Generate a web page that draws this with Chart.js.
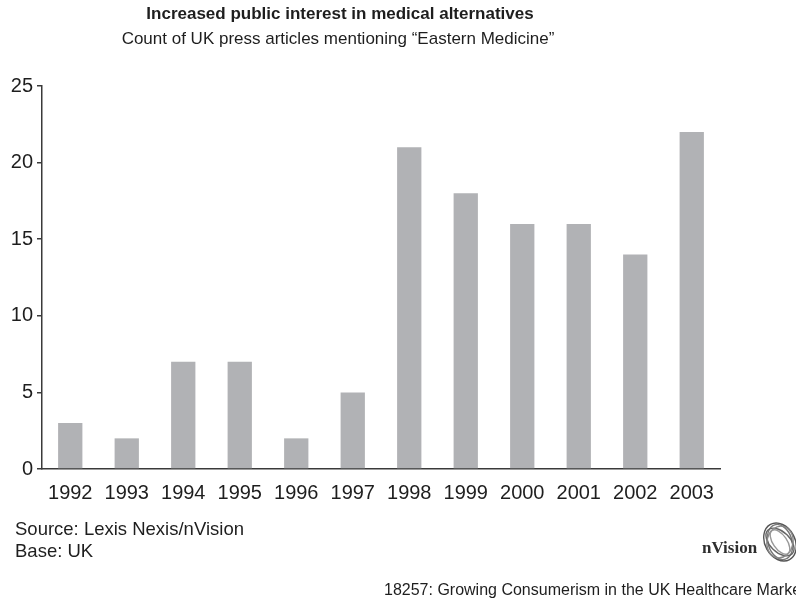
<!DOCTYPE html>
<html>
<head>
<meta charset="utf-8">
<script src="https://cdn.jsdelivr.net/npm/chart.js@4.4.0/dist/chart.umd.min.js"></script>
<style>
  html, body { margin: 0; padding: 0; background: #fff; }
  #wrap { position: relative; width: 796px; height: 603px; overflow: hidden; }
</style>
</head>
<body>
<div id="wrap"><canvas id="press_chart" width="796" height="603"></canvas></div>
<script>
// article counts per year
const years = ['1992', '1993', '1994', '1995', '1996', '1997', '1998', '1999', '2000', '2001', '2002', '2003'];
const articles = [3, 2, 7, 7, 2, 5, 21, 18, 16, 16, 14, 22];
const yTicks = [0, 5, 10, 15, 20, 25];

const titleText = 'Increased public interest in medical alternatives';
const subtitleText = 'Count of UK press articles mentioning \u201cEastern Medicine\u201d';
const sourceLines = ['Source: Lexis Nexis/nVision', 'Base: UK'];
const footerText = '18257: Growing Consumerism in the UK Healthcare Market';

const textColour = '#1e1e1e';
const axisColour = '#3a3a3a';
const barColour = '#b1b2b5';
const font = '"Liberation Sans", Arial, Helvetica, sans-serif';

// headings, notes and the little logo are painted straight on the canvas
const annotations = {
    id: 'annotations',
    afterDraw(chart) {
        const ctx = chart.ctx;
        ctx.save();
        ctx.fillStyle = textColour;
        ctx.textBaseline = 'middle';

        ctx.textAlign = 'center';
        ctx.font = 'bold 17px ' + font;
        ctx.fillText(titleText, 340, 14);
        ctx.font = '17px ' + font;
        ctx.fillText(subtitleText, 338, 39);

        ctx.textAlign = 'left';
        ctx.font = '18.5px ' + font;
        ctx.fillText(sourceLines[0], 15, 530);
        ctx.fillText(sourceLines[1], 15, 552);

        ctx.font = '16px ' + font;
        ctx.fillText(footerText, 384, 591);

        // nVision logo
        ctx.fillStyle = '#2e2e2e';
        ctx.font = 'bold 17px "Liberation Serif", "DejaVu Serif", serif';
        ctx.fillText('nVision', 702, 549);
        ctx.lineWidth = 1.4;
        const rings = [[-0.5, 15, 20, '#555'], [-0.3, 12, 18, '#777'], [-0.8, 10, 17, '#666'],
                       [0.2, 13, 16, '#888'], [-0.6, 7, 14, '#999']];
        rings.forEach(function (r) {
            ctx.strokeStyle = r[3];
            ctx.beginPath();
            ctx.ellipse(780, 542, r[1], r[2], r[0], 0, Math.PI * 2);
            ctx.stroke();
        });
        ctx.restore();
    }
};

const canvas = document.getElementById('press_chart');
const chart = new Chart(canvas, {
    type: 'bar',
    data: {
        labels: years,
        datasets: [{
            label: 'Articles',
            data: articles,
            backgroundColor: barColour,
            borderWidth: 0,
            barPercentage: 0.43,
            categoryPercentage: 1.0
        }]
    },
    options: {
        responsive: false,
        animation: false,
        layout: { padding: { top: 86, right: 76, bottom: 94, left: 0 } },
        plugins: {
            legend: { display: false },
            tooltip: { enabled: false },
            title: { display: false }
        },
        scales: {
            x: {
                grid: { display: false, drawTicks: false },
                border: { color: axisColour, width: 1.5 },
                ticks: { color: textColour, font: { size: 20, family: font }, padding: 12, maxRotation: 0 },
                afterFit(scale) { scale.height = 40; }
            },
            y: {
                min: 0,
                max: 25,
                afterBuildTicks(scale) { scale.ticks = yTicks.map(v => ({ value: v })); },
                grid: { drawOnChartArea: false, tickLength: 5, color: axisColour, lineWidth: 1.5 },
                border: { color: axisColour, width: 1.5 },
                ticks: { color: textColour, font: { size: 20, family: font }, padding: 4 },
                afterFit(scale) { scale.width = 42; }
            }
        }
    },
    plugins: [annotations]
});
</script>
</body>
</html>
